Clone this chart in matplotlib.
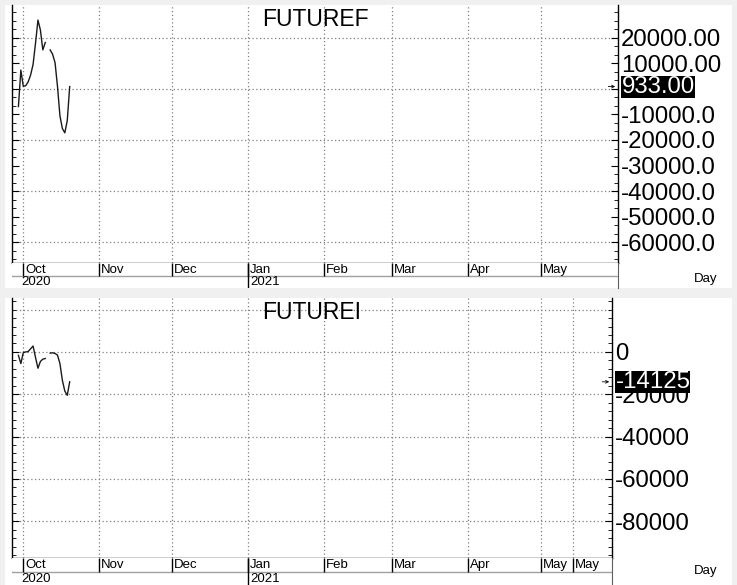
import numpy as np
import pandas as pd
import matplotlib
matplotlib.use("Agg")
import matplotlib.pyplot as plt
import matplotlib.dates as mdates
import matplotlib.transforms as mtransforms
from matplotlib.patches import Rectangle
from matplotlib.ticker import FixedLocator, MultipleLocator, FuncFormatter

# data (daily, one missing day)
dates = pd.date_range("2020-09-29", "2020-10-20", freq="D")
futuref = [-6900, 7400, 1000, 1300, 2800, 5500, 9600, 17900, 27000, 23100, 15300,
           18200, np.nan, 15300, 13600, 10300, 1000, -10500, -15500, -17200, -12400, 933]
futurei = [-1600, -5500, -300, 0, 200, 1500, 2800, -2600, -7700, -4500, -3400,
           -3100, np.nan, -550, -400, -700, -1500, -5500, -13400, -18500, -20500, -14125]
last_f = "933.00"
last_i = "-14125"

month_dates = ["2020-10-01", "2020-11-01", "2020-12-01", "2021-01-01", "2021-02-01",
               "2021-03-01", "2021-04-01", "2021-05-01"]
month_labels = ["Oct", "Nov", "Dec", "Jan", "Feb", "Mar", "Apr", "May"]
extra_month = ["2021-05-14"]
year_dates = ["2020-10-01", "2021-01-01"]
year_labels = ["2020", "2021"]

W, H = 737, 585
FONT = "Liberation Sans"
NARROW = ["Liberation Sans Narrow", "Liberation Sans"]
PX_DAY = 2.442
OCT1 = mdates.date2num(pd.Timestamp("2020-10-01"))
OCT1_PX = 23.3


def fbox(x0, y0, x1, y1):
    return [x0 / W, 1 - y1 / H, (x1 - x0) / W, (y1 - y0) / H]


fig = plt.figure(figsize=(W / 100, H / 100), dpi=100, facecolor="#f0f0f0")
for x0, y0, x1, y1 in [(5, 5, 732, 288), (5, 298, 732, 585)]:
    fig.add_artist(Rectangle((x0 / W, 1 - y1 / H), (x1 - x0) / W, (y1 - y0) / H,
                             transform=fig.transFigure, fc="white", ec="none", zorder=0))


def panel(top, bot, strip_bot, right, title, values, last_text, ylim, grid_y,
          label_y, minor, fmt, months, mlabels):
    ax = fig.add_axes(fbox(12, top, right, bot))
    ax.set_facecolor("white")
    x = pd.to_datetime(dates)
    ax.plot(x, values, color="#1a1a1a", lw=1.0, zorder=3)
    ax.set_xlim(OCT1 + (12 - OCT1_PX) / PX_DAY, OCT1 + (right - OCT1_PX) / PX_DAY)
    ax.set_ylim(*ylim)

    for g in grid_y:
        ax.axhline(g, color="#808080", lw=0.9, ls=(0, (1, 2)), zorder=1)
    for m in months:
        ax.axvline(pd.Timestamp(m), color="#808080", lw=0.9, ls=(0, (1, 2)), zorder=1)

    ax.spines["top"].set_visible(False)
    for s in ["left", "right", "bottom"]:
        ax.spines[s].set_color("black")
        ax.spines[s].set_linewidth(1.0)
    ax.tick_params(axis="x", bottom=False, labelbottom=False)
    ax.yaxis.set_major_locator(FixedLocator(label_y))
    ax.yaxis.set_minor_locator(MultipleLocator(minor))
    ax.yaxis.set_major_formatter(FuncFormatter(fmt))
    ax.tick_params(axis="y", which="both", left=True, right=True, direction="in",
                   labelleft=False, labelright=True, pad=2, labelsize=17.3)
    ax.tick_params(axis="y", which="major", length=5, width=0.8)
    ax.tick_params(axis="y", which="minor", length=3, width=0.6)
    for lab in ax.get_yticklabels():
        lab.set_fontfamily(FONT)

    ax.text(0.5, 1 - 14 / (bot - top), title, transform=ax.transAxes, ha="center",
            va="center", fontsize=16.5, family=FONT, color="black", zorder=4)

    # last value box and arrow
    last = [v for v in values if not np.isnan(v)][-1]
    ax.annotate(last_text, xy=(1, last), xycoords=("axes fraction", "data"),
                xytext=(2.5, 0), textcoords="offset points", ha="left", va="center",
                fontsize=17.3, family=FONT, color="white", annotation_clip=False,
                bbox=dict(boxstyle="square,pad=0.0", fc="black", ec="none"), zorder=6)
    ax.annotate("", xy=(1, last), xycoords=("axes fraction", "data"),
                xytext=(-7, 0), textcoords="offset points", annotation_clip=False,
                arrowprops=dict(arrowstyle="->", lw=0.6, color="black",
                                shrinkA=0, shrinkB=2, mutation_scale=5))

    # date strip
    d = fig.add_axes(fbox(12, bot, right, strip_bot), sharex=ax)
    d.set_ylim(0, 1)
    d.set_facecolor("white")
    for s in ["top", "bottom", "left"]:
        d.spines[s].set_visible(False)
    d.spines["right"].set_color("#606060")
    d.tick_params(axis="both", bottom=False, left=False, labelbottom=False,
                  labelleft=False)
    d.axhline(0.5, color="#a0a0a0", lw=1.0)
    mt = [pd.Timestamp(m) for m in months]
    d.vlines(mt, 0.5, 1, color="black", lw=1.0)
    d.vlines([pd.Timestamp(year_dates[1])], 0, 1, color="black", lw=1.0)
    tr = mtransforms.offset_copy(d.get_xaxis_transform(), fig=fig, x=2, y=0, units="dots")
    for m, lab in zip(mt, mlabels):
        d.text(m, 0.74, lab, transform=tr, ha="left", va="center", fontsize=9.5,
               family=NARROW, color="black")
    for i, (yd, lab) in enumerate(zip(year_dates, year_labels)):
        off = -2 if i == 0 else 2
        tr2 = mtransforms.offset_copy(d.get_xaxis_transform(), fig=fig, x=off, y=0,
                                      units="dots")
        d.text(pd.Timestamp(yd), 0.24, lab, transform=tr2, ha="left", va="center",
               fontsize=9.5, family=NARROW, color="black")
    return ax


panel(5, 263, 288, 618, "FUTUREF", futuref, last_f, (-68200, 32900),
      [20000, 0, -20000, -40000, -60000],
      [20000, 10000, 0, -10000, -20000, -30000, -40000, -50000, -60000],
      20000 / 6, lambda v, p: "" if v == 0 else f"{v:.2f}"[:8],
      month_dates, month_labels)

panel(298, 558, 585, 612, "FUTUREI", futurei, last_i, (-97400, 25500),
      [20000, 0, -20000, -40000, -60000, -80000],
      [0, -20000, -40000, -60000, -80000],
      4000, lambda v, p: f"{v:.0f}",
      month_dates + extra_month, month_labels + ["May"])

fig.text(706 / W, 1 - 279 / H, "Day", ha="center", va="center", fontsize=9.5, family=FONT)
fig.text(706 / W, 1 - 571 / H, "Day", ha="center", va="center", fontsize=9.5, family=FONT)

fig.savefig("out.png", dpi=100, facecolor=fig.get_facecolor())
